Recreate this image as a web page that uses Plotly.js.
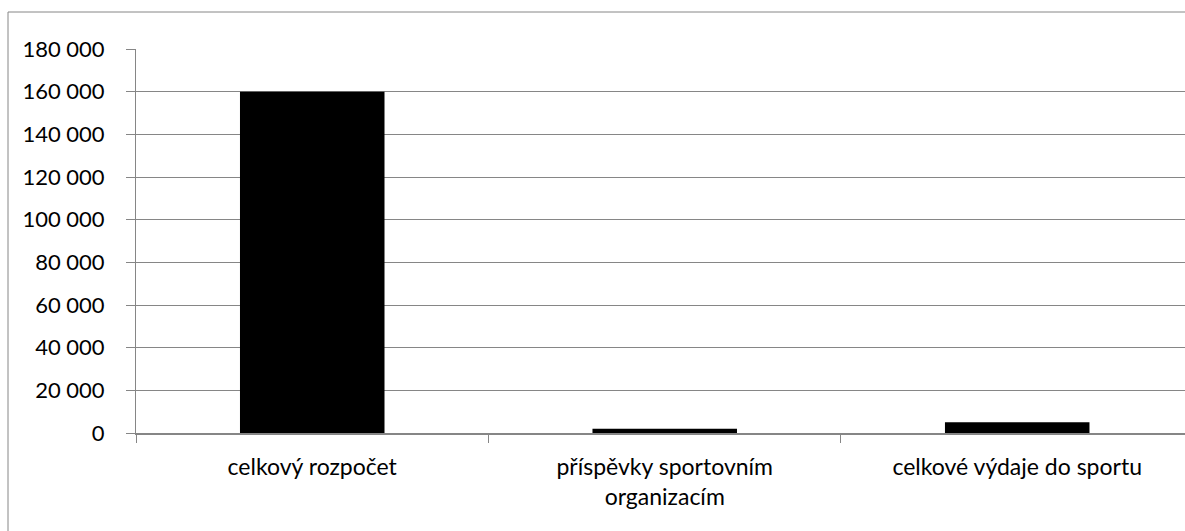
<!DOCTYPE html>
<html><head><meta charset="utf-8">
<script src="https://cdn.plot.ly/plotly-3.0.1.min.js"></script>
<style>body{margin:0;background:#fff}#c{width:1185px;height:531px}</style>
</head><body><div id="c"></div>
<script>
const categories = ["celkový rozpočet", "příspěvky sportovním<br>organizacím", "celkové výdaje do sportu"];
const values = [160000, 2000, 5000];
const yTicks = [0, 20000, 40000, 60000, 80000, 100000, 120000, 140000, 160000, 180000];
const yTickText = ["0", "20 000", "40 000", "60 000", "80 000", "100 000", "120 000", "140 000", "160 000", "180 000"];

const font = "Lato, 'Open Sans', sans-serif";
Plotly.newPlot('c', [{
  type: 'bar', x: categories, y: values,
  marker: {color: '#000000', line: {width: 0}},
  width: 0.41, hoverinfo: 'none'
}], {
  width: 1185, height: 531,
  margin: {l: 136, r: 0, t: 49, b: 98, pad: 0},
  paper_bgcolor: '#fff', plot_bgcolor: '#fff',
  showlegend: false,
  bargap: 0.59,
  font: {family: font, color: '#000', size: 22},
  xaxis: {
    type: 'category', range: [-0.5, 2.476],
    showline: true, linecolor: '#868686', linewidth: 2,
    ticks: 'outside', tickson: 'boundaries', ticklen: 8, tickcolor: '#868686', tickwidth: 1,
    showgrid: false, zeroline: false,
    tickfont: {family: font, size: 23, color: '#000'},
    ticklabelstandoff: 12, fixedrange: true
  },
  yaxis: {
    range: [0, 180000], tickvals: yTicks, ticktext: yTickText,
    showline: true, linecolor: '#868686', linewidth: 1,
    ticks: 'outside', ticklen: 9, tickcolor: '#868686',
    showgrid: true, gridcolor: '#868686', gridwidth: 1,
    zeroline: false,
    tickfont: {family: font, size: 22, color: '#000'},
    ticklabelstandoff: 17, fixedrange: true
  },
  shapes: [{
    type: 'rect', xref: 'paper', yref: 'paper',
    x0: (8 - 136) / 1049, x1: 1.2, y0: -0.5, y1: 1 + (49 - 12) / 384,
    line: {color: '#868686', width: 1}, fillcolor: 'rgba(0,0,0,0)', layer: 'below'
  }]
}, {staticPlot: true});
</script></body></html>
